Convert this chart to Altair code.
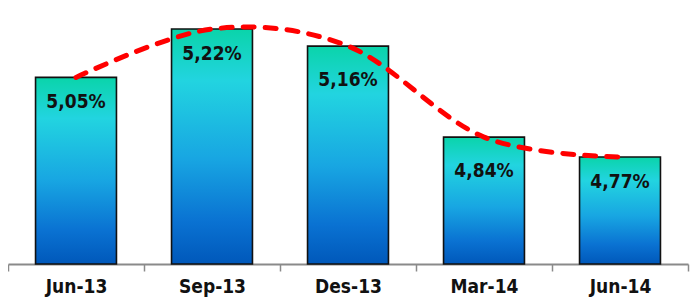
import altair as alt
import pandas as pd

categories = ["Jun-13", "Sep-13", "Des-13", "Mar-14", "Jun-14"]
values = [5.05, 5.22, 5.16, 4.84, 4.77]
labels = ["5,05%", "5,22%", "5,16%", "4,84%", "4,77%"]
lowered = ["Des-13", "Mar-14"]

Y_MIN, Y_MAX = 4.394, 5.294
FONT = "Liberation Sans Narrow, Arial Narrow, DejaVu Sans Condensed, sans-serif"

df = pd.DataFrame({"cat": categories, "val": values, "lab": labels})
df["low"] = df["cat"].isin(lowered)

x = alt.X("cat:N", sort=categories, title=None,
          scale=alt.Scale(paddingInner=0, paddingOuter=0),
          axis=alt.Axis(labelAngle=0, labelFont=FONT, labelFontSize=19,
                        labelFontWeight="bold", labelColor="#111111",
                        labelPadding=6, tickSize=7, tickBand="extent",
                        tickColor="#8a8a8a", tickWidth=1.5,
                        domainColor="#8a8a8a", domainWidth=2))
y = alt.Y("val:Q", title=None, axis=None,
          scale=alt.Scale(domain=[Y_MIN, Y_MAX], zero=False, nice=False))

grad = alt.Gradient(gradient="linear", x1=0, y1=0, x2=0, y2=1, stops=[
    alt.GradientStop(color="#0ad4aa", offset=0),
    alt.GradientStop(color="#22d4e0", offset=0.22),
    alt.GradientStop(color="#18a6e2", offset=0.55),
    alt.GradientStop(color="#0a72d2", offset=0.82),
    alt.GradientStop(color="#0058ba", offset=1),
])

base = alt.Chart(df)

bars = base.mark_bar(color=grad, stroke="#111111", strokeWidth=1.6,
                     width=alt.RelativeBandSize(0.595)).encode(
    x=x, y=y, y2=alt.datum(Y_MIN))

line = base.mark_line(color="#ff0000", strokeWidth=5, strokeDash=[11, 11],
                      strokeCap="round", interpolate="cardinal").encode(
    x=alt.X("cat:N", sort=categories), y=alt.Y("val:Q"))

txt_kw = dict(font=FONT, fontSize=19, fontWeight="bold", color="#111111",
              baseline="middle", align="center")
text_hi = base.transform_filter("!datum.low").mark_text(dy=24.5, **txt_kw).encode(
    x=alt.X("cat:N", sort=categories), y=alt.Y("val:Q"), text="lab:N")
text_lo = base.transform_filter("datum.low").mark_text(dy=34, **txt_kw).encode(
    x=alt.X("cat:N", sort=categories), y=alt.Y("val:Q"), text="lab:N")

chart = alt.layer(bars, text_hi, text_lo, line).properties(
    width=680, height=256,
    autosize=alt.AutoSizeParams(type="none"),
    padding={"left": 0, "top": 0, "right": 4, "bottom": 36},
).configure_view(stroke=None)

chart.save("out.html", embed_options={"renderer": "svg", "actions": False})
